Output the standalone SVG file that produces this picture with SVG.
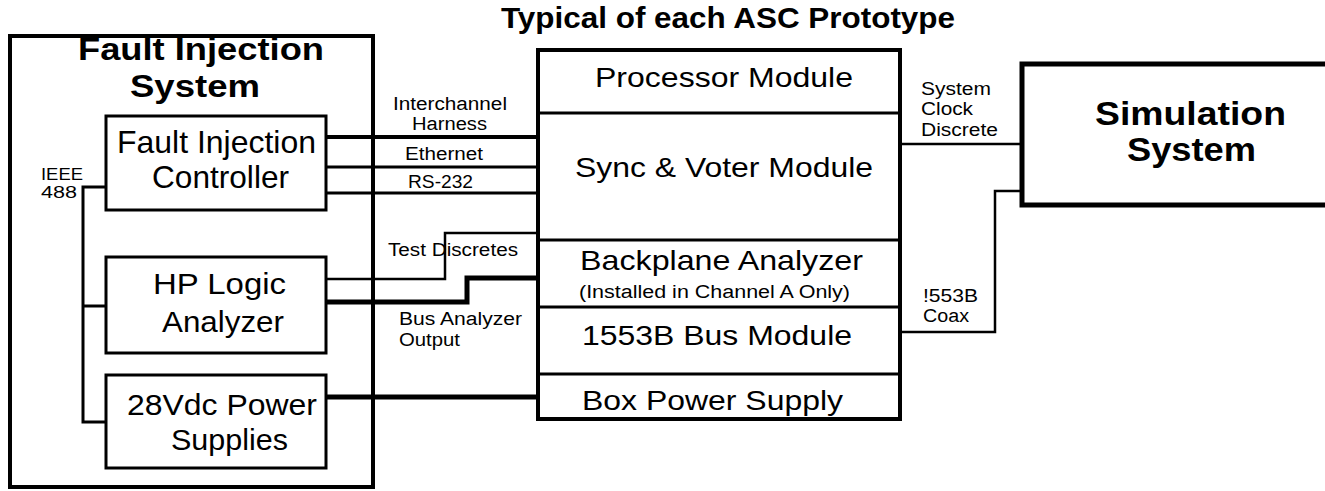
<svg xmlns="http://www.w3.org/2000/svg" width="1325" height="491" viewBox="0 0 1325 491">
<style>
text{font-family:"Liberation Sans",Arial,Helvetica,sans-serif;fill:#000}
.b{font-weight:bold}
.box{fill:none;stroke:#000;stroke-width:3}
.heavy{fill:none;stroke:#000;stroke-width:4}
.ln{fill:none;stroke:#000;stroke-width:2.5}
.th{fill:none;stroke:#000;stroke-width:5}
.md{fill:none;stroke:#000;stroke-width:3}
.lbl{font-size:18px}
.big{font-size:28px}
</style>
<rect width="1325" height="491" fill="#fff"/>
<text class="b" x="501" y="28" font-size="30" textLength="454" lengthAdjust="spacingAndGlyphs">Typical of each ASC Prototype</text>

<g id="fault-injection-system">
<rect class="heavy" x="10" y="36" width="363" height="451"/>
<text class="b" x="78" y="60" font-size="31" textLength="246" lengthAdjust="spacingAndGlyphs">Fault Injection</text>
<text class="b" x="130" y="97" font-size="32" textLength="130" lengthAdjust="spacingAndGlyphs">System</text>
</g>

<g id="fi-controller">
<rect class="box" x="106" y="116" width="220" height="94"/>
<text x="117" y="153" font-size="32" textLength="199" lengthAdjust="spacingAndGlyphs">Fault Injection</text>
<text x="152" y="188" font-size="32" textLength="137" lengthAdjust="spacingAndGlyphs">Controller</text>
</g>

<g id="hp-logic-analyzer">
<rect class="box" x="106" y="257" width="220" height="96"/>
<text x="153" y="294" font-size="30" textLength="133" lengthAdjust="spacingAndGlyphs">HP Logic</text>
<text x="162" y="332" font-size="30" textLength="122" lengthAdjust="spacingAndGlyphs">Analyzer</text>
</g>

<g id="power-supplies">
<rect class="box" x="106" y="375" width="220" height="93"/>
<text x="127" y="415" font-size="30" textLength="190" lengthAdjust="spacingAndGlyphs">28Vdc Power</text>
<text x="171" y="450" font-size="30" textLength="117" lengthAdjust="spacingAndGlyphs">Supplies</text>
</g>

<g id="asc-prototype">
<rect class="heavy" x="538" y="50" width="362" height="369"/>
<line class="md" x1="538" y1="113" x2="900" y2="113"/>
<line class="md" x1="538" y1="240" x2="900" y2="240"/>
<line class="md" x1="538" y1="307" x2="900" y2="307"/>
<line class="md" x1="538" y1="374" x2="900" y2="374"/>
<text class="big" x="595" y="87" textLength="258" lengthAdjust="spacingAndGlyphs">Processor Module</text>
<text class="big" x="575" y="177" textLength="298" lengthAdjust="spacingAndGlyphs">Sync &amp; Voter Module</text>
<text class="big" x="580" y="270" textLength="283" lengthAdjust="spacingAndGlyphs">Backplane Analyzer</text>
<text x="579" y="298" font-size="18" textLength="271" lengthAdjust="spacingAndGlyphs">(Installed in Channel A Only)</text>
<text class="big" x="582" y="345" textLength="270" lengthAdjust="spacingAndGlyphs">1553B Bus Module</text>
<text class="big" x="582" y="410" textLength="261" lengthAdjust="spacingAndGlyphs">Box Power Supply</text>
</g>

<g id="simulation-system">
<path fill="none" stroke="#000" stroke-width="5" d="M1325,64 H1022 V205 H1325"/>
<text class="b" x="1095" y="125" font-size="34" textLength="191" lengthAdjust="spacingAndGlyphs">Simulation</text>
<text class="b" x="1127" y="161" font-size="34" textLength="129" lengthAdjust="spacingAndGlyphs">System</text>
</g>

<g id="connectors">
<polyline class="md" points="106,187 83,187 83,422 106,422"/>
<line class="md" x1="83" y1="306" x2="106" y2="306"/>
<line class="heavy" x1="326" y1="137" x2="538" y2="137"/>
<line class="md" x1="326" y1="167" x2="538" y2="167"/>
<line class="md" x1="326" y1="193" x2="538" y2="193"/>
<polyline class="ln" points="326,279 445,279 445,233 538,233"/>
<polyline class="th" points="326,302 467,302 467,278 538,278"/>
<line class="th" x1="326" y1="397" x2="538" y2="397"/>
<line class="ln" x1="900" y1="144" x2="1022" y2="144"/>
<polyline class="ln" points="1022,191 995,191 995,332 900,332"/>
</g>

<g id="labels">
<text x="41" y="180" font-size="17" textLength="42" lengthAdjust="spacingAndGlyphs">IEEE</text>
<text x="41" y="198" font-size="17" textLength="36" lengthAdjust="spacingAndGlyphs">488</text>
<text class="lbl" x="393" y="110" textLength="114" lengthAdjust="spacingAndGlyphs">Interchannel</text>
<text class="lbl" x="412" y="130" textLength="75" lengthAdjust="spacingAndGlyphs">Harness</text>
<text class="lbl" x="405" y="160" textLength="78" lengthAdjust="spacingAndGlyphs">Ethernet</text>
<text class="lbl" x="408" y="188" textLength="65" lengthAdjust="spacingAndGlyphs">RS-232</text>
<text class="lbl" x="388" y="256" textLength="130" lengthAdjust="spacingAndGlyphs">Test Discretes</text>
<text class="lbl" x="399" y="325" textLength="123" lengthAdjust="spacingAndGlyphs">Bus Analyzer</text>
<text class="lbl" x="399" y="346" textLength="61" lengthAdjust="spacingAndGlyphs">Output</text>
<text class="lbl" x="921" y="95" textLength="70" lengthAdjust="spacingAndGlyphs">System</text>
<text class="lbl" x="921" y="115" textLength="52" lengthAdjust="spacingAndGlyphs">Clock</text>
<text class="lbl" x="921" y="136" textLength="77" lengthAdjust="spacingAndGlyphs">Discrete</text>
<text class="lbl" x="923" y="302" textLength="55" lengthAdjust="spacingAndGlyphs">!553B</text>
<text class="lbl" x="923" y="322" textLength="46" lengthAdjust="spacingAndGlyphs">Coax</text>
</g>
</svg>
